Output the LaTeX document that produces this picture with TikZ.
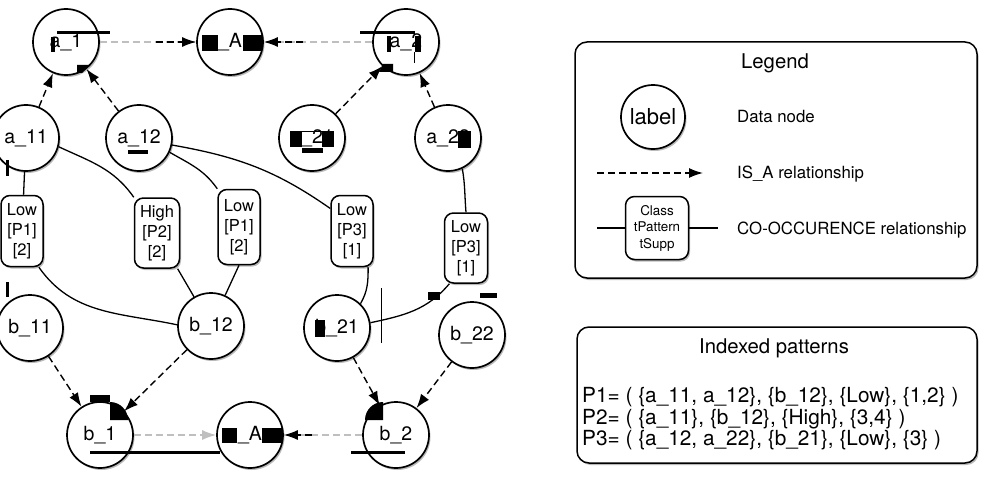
\documentclass[tikz,border=0pt]{standalone}
\usepackage{fontspec}
\setmainfont{TeX Gyre Heros}
\usetikzlibrary{arrows.meta,shadows,calc}
\begin{document}
\begin{tikzpicture}[x=1pt,y=-1pt,
  shd/.style={drop shadow={shadow xshift=1.5pt,shadow yshift=-2pt,fill=black!60,opacity=0.45}},
  dnode/.style={circle,draw=black,line width=1.7pt,fill=white,minimum size=66pt,inner sep=0pt,font=\fontsize{19.5}{22}\selectfont,shd},
  cbox/.style={draw=black,line width=1.5pt,rounded corners=9pt,fill=white,minimum width=42pt,minimum height=71pt,inner sep=1pt,align=center,font=\fontsize{16.5}{20}\selectfont,shd},
  isa/.style={line width=1.4pt,dash pattern=on 7pt off 4pt,-{Latex[length=14pt,width=10pt]}},
  isagray/.style={line width=1.4pt,dash pattern=on 7pt off 4pt,draw=black!25},
  co/.style={line width=1.3pt},
  panel/.style={draw=black,line width=1.5pt,rounded corners=12pt,fill=white,inner sep=0pt,shd},
  lgtext/.style={anchor=west,font=\fontsize{16.8}{19}\selectfont,inner sep=0pt},
  ttl/.style={font=\fontsize{20.3}{24}\selectfont,inner sep=0pt}
]
\useasboundingbox (0,0) rectangle (981,484);
\fill[white] (0,0) rectangle (981,484);

% ---------- panels ----------
\node[panel,minimum width=402pt,minimum height=236pt] (legend) at (776,160) {};
\node[panel,minimum width=400pt,minimum height=136pt] (patterns) at (777,395) {};
\node[ttl] (legtitle) at (775,63) {Legend};
\node[dnode,minimum size=64pt,font=\fontsize{22}{24}\selectfont] (lglabel) at (653,117) {label};
\node[lgtext] (t1) at (737,117) {Data node};
\coordinate (lgA) at (597,173);
\coordinate (lgB) at (703,173);
\draw[isa] (lgA) -- (lgB);
\node[lgtext] (t2) at (737,174) {IS\_A relationship};
\node[cbox,minimum width=63pt,minimum height=63pt,font=\fontsize{13.4}{16.5}\selectfont] (lgbox) at (657,228) {Class\\tPattern\\tSupp};
\coordinate (lgc1) at (597,228);
\coordinate (lgc2) at (718,228);
\draw[co] (lgc1) -- (lgbox);
\draw[co] (lgbox) -- (lgc2);
\node[lgtext] (t3) at (737,230) {CO-OCCURENCE relationship};

\node[ttl] (pattitle) at (774,348) {Indexed patterns};
\node[anchor=west,align=left,font=\fontsize{20.8}{21.5}\selectfont,inner sep=0pt] (pats) at (582,419)
  {P1= ( \{a\_11, a\_12\}, \{b\_12\}, \{Low\}, \{1,2\} )\\
   P2= ( \{a\_11\}, \{b\_12\}, \{High\}, \{3,4\} )\\
   P3= ( \{a\_12, a\_22\}, \{b\_21\}, \{Low\}, \{3\} )};

% ---------- data nodes ----------
\node[dnode] (a1) at (66,42) {a\_1};
\node[dnode] (A) at (230,42) {\_A};
\node[dnode] (a2) at (406,42) {a\_2};
\node[dnode] (a11) at (26,138) {a\_11};
\node[dnode] (a12) at (139,138) {a\_12};
\node[dnode] (a21) at (312,138) {a\_21};
\node[dnode] (a22) at (448,138) {a\_22};
\node[dnode] (b11) at (30,328) {b\_11};
\node[dnode] (b12) at (211,326) {b\_12};
\node[dnode] (b21) at (337,328) {b\_21};
\node[dnode] (b22) at (472,335) {b\_22};
\node[dnode] (b1) at (100,435) {b\_1};
\node[dnode] (B) at (250,435) {\_A};
\node[dnode] (b2) at (396,435) {b\_2};

% ---------- co-occurrence labels ----------
\node[cbox] (lowL) at (22,231) {Low\\{[P1]}\\{[2]}};
\node[cbox,minimum width=45pt,minimum height=70pt] (high) at (157,233) {High\\{[P2]}\\{[2]}};
\node[cbox,minimum height=75pt] (lowM1) at (239,227) {Low\\{[P1]}\\{[2]}};
\node[cbox] (lowM3) at (352,231) {Low\\{[P3]}\\{[1]}};
\node[cbox,minimum width=43pt,minimum height=70pt] (lowR) at (466,248) {Low\\{[P3]}\\{[1]}};

% ---------- co-occurrence connectors ----------
\draw[co] (a11) -- (lowL);
\draw[co] (lowL.-65) to[out=-55,in=168] (b12.178);
\draw[co] (a11.-15) to[out=-25,in=125] (high.north west);
\draw[co] (high.-60) -- (b12);
\draw[co] (a12.-25) to[out=-30,in=125] (lowM1.north west);
\draw[co] (lowM1.south) -- (b12);
\draw[co] (a12.-12) to[out=-10,in=145] (lowM3.134);
\draw[co] (lowM3.-66) to[out=-90,in=60] (b21.46);
\draw[co] (a22.-65) to[out=-80,in=95] (lowR.north);
\draw[co] (lowR.-115) to[out=-130,in=12] (b21.9);

% ---------- IS_A connectors ----------
\draw[isa] (a11) -- (a1);
\draw[isa] (a12) -- (a1);
\draw[isa] (a21) -- (a2);
\draw[isa] (a22) -- (a2);
\draw[isa] (b11) -- (b1);
\draw[isa] (b12) -- (b1);
\draw[isa] (b21) -- (b2);
\draw[isa] (b22) -- (b2);

\coordinate (mA1) at (156,42);
\coordinate (mA2) at (303,42);
\coordinate (mB2) at (312,435);
\draw[isagray] (a1) -- (A);
\draw[isa] (mA1) -- (A);
\draw[isagray] (a2) -- (A);
\draw[isa] (mA2) -- (A);
\draw[isagray,-{Latex[length=14pt,width=10pt]}] (b1) -- (B);
\draw[isagray] (b2) -- (B);
\draw[isa] (mB2) -- (B);

% ---------- black marks printed over the picture ----------
\fill (57,31.5) rectangle (110,34.5);
\fill (51,37) rectangle (55,52);
\fill (77,65) -- (90,65) -- (82,73) -- (77,73) -- cycle;
\fill (202,35) rectangle (218,51);
\fill (243,35) rectangle (262,51);
\fill (360,31.5) rectangle (415,34.5);
\fill (387,36) rectangle (391,52);
\fill (415,36) rectangle (421,52);
\fill (383,64) -- (393,64) -- (393,72) -- (379,72) -- cycle;
\draw[line width=0.8pt] (414,52) -- (414,63);
\fill (6,160) rectangle (9,176);
\fill (6,282) rectangle (9,297);
\fill (128,150) rectangle (148,153.5);
\fill (290,131) rectangle (302,147);
\fill (322,131) rectangle (334,147);
\fill (302,148) rectangle (323,153);
\draw[line width=0.6pt] (302,131) -- (322,131);
\fill (458,131) rectangle (471,148);
\fill (315,320) rectangle (325,337);
\draw[line width=1pt] (381,288) -- (381,343);
\fill (428,292) rectangle (440,300);
\fill (480,293) rectangle (497,298);
\fill (90,395) rectangle (110,402);
\fill (110,420) -- (128,420) arc[start angle=0,end angle=90,radius=18pt] -- cycle;
\fill (90,451) rectangle (220,454);
\fill (222,428) rectangle (237,443);
\fill (262,428) rectangle (283,443);
\fill (383,420) -- (383,402) arc[start angle=90,end angle=180,radius=18pt] -- cycle;
\fill (351,451) rectangle (405,454);
\end{tikzpicture}
\end{document}
